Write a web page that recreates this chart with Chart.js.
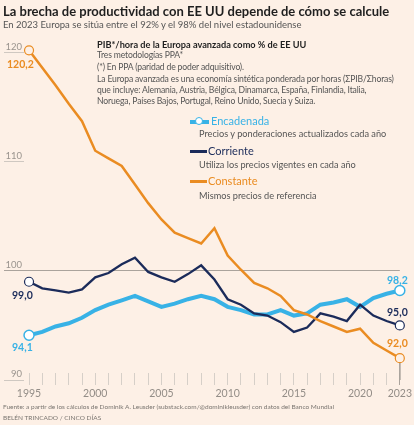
<!DOCTYPE html>
<html lang="es">
<head>
    <meta charset="UTF-8">
    <title>La brecha de productividad con EE UU</title>
    <script src="https://cdn.jsdelivr.net/npm/chart.js"></script>
    <style>
        html, body { margin: 0; padding: 0; }
        body { width: 414px; height: 425px; background: #fdf0e6; font-family: 'Lato', sans-serif; position: relative; overflow: hidden; }
        .t { position: absolute; white-space: nowrap; line-height: 1; }
        #chart-wrap { position: absolute; left: 0; top: 0; width: 414px; height: 425px; }
        .title { left: 3px; top: 5px; font-size: 13px; font-weight: 700; color: #1f1f1f; }
        .sub { left: 3px; top: 20px; font-size: 9.5px; color: #555; }
        .note { left: 97px; font-size: 8.6px; letter-spacing: -0.15px; color: #555; }
        .note.b { font-weight: 700; color: #1f1f1f; font-size: 9.2px; letter-spacing: 0; }
        .leg { font-size: 11px; }
        .desc { left: 199px; font-size: 9.2px; color: #555; }
        .val { font-size: 10.5px; font-weight: 700; }
        .foot { left: 3px; font-size: 6.5px; color: #7a7570; }
        .sym { position: absolute; height: 2.5px; }
    </style>
</head>
<body>
    <div id="chart-wrap"><canvas id="brechaChart" width="414" height="425"></canvas></div>

    <div class="t title">La brecha de productividad con EE UU depende de cómo se calcule</div>
    <div class="t sub">En 2023 Europa se sitúa entre el 92% y el 98% del nivel estadounidense</div>

    <div class="t note b" style="top:40px">PIB*/hora de la Europa avanzada como % de EE UU</div>
    <div class="t note" style="top:51px">Tres metodologías PPA*</div>
    <div class="t note" style="top:63px">(*) En PPA (paridad de poder adquisitivo).</div>
    <div class="t note" style="top:75px">La Europa avanzada es una economía sintética ponderada por horas (ΣPIB/Σhoras)</div>
    <div class="t note" style="top:86px">que incluye: Alemania, Austria, Bélgica, Dinamarca, España, Finlandia, Italia,</div>
    <div class="t note" style="top:97px">Noruega, Países Bajos, Portugal, Reino Unido, Suecia y Suiza.</div>

    <!-- leyenda -->
    <div class="sym" style="left:190px; top:120px; width:19px; height:3.5px; background:#38b2e6"></div>
    <div style="position:absolute; left:195px; top:117px; width:6px; height:6px; border:1.5px solid #38b2e6; border-radius:50%; background:#fff"></div>
    <div class="t leg" style="left:211px; top:115px; color:#38b2e6">Encadenada</div>
    <div class="t desc" style="top:129px">Precios y ponderaciones actualizados cada año</div>

    <div class="sym" style="left:190px; top:150px; width:17px; background:#1b2b5a"></div>
    <div class="t leg" style="left:208px; top:145px; color:#1b2b5a">Corriente</div>
    <div class="t desc" style="top:160px">Utiliza los precios vigentes en cada año</div>

    <div class="sym" style="left:190px; top:180px; width:17px; background:#ea8c22"></div>
    <div class="t leg" style="left:208px; top:175px; color:#ea8c22">Constante</div>
    <div class="t desc" style="top:191px">Mismos precios de referencia</div>

    <!-- valores extremos -->
    <div class="t val" style="left:7px; top:59px; color:#ea8c22">120,2</div>
    <div class="t val" style="left:12px; top:290px; color:#1b2b5a">99,0</div>
    <div class="t val" style="left:12px; top:342px; color:#38b2e6">94,1</div>
    <div class="t val" style="left:387px; top:275px; color:#38b2e6">98,2</div>
    <div class="t val" style="left:387px; top:307px; color:#1b2b5a">95,0</div>
    <div class="t val" style="left:387px; top:338px; color:#ea8c22">92,0</div>

    <div class="t foot" style="top:404px">Fuente: a partir de los cálculos de Dominik A. Leusder (substack.com/@dominikleusder) con datos del Banco Mundial</div>
    <div class="t foot" style="top:415px">BELÉN TRINCADO / CINCO DÍAS</div>

    <script>
        // años y series (% del nivel de EE UU)
        const years = [1995, 1996, 1997, 1998, 1999, 2000, 2001, 2002, 2003, 2004, 2005, 2006, 2007, 2008, 2009,
                       2010, 2011, 2012, 2013, 2014, 2015, 2016, 2017, 2018, 2019, 2020, 2021, 2022, 2023];
        const encadenada = [94.1, 94.4, 94.9, 95.2, 95.7, 96.4, 96.9, 97.3, 97.7, 97.2, 96.7, 97.0, 97.4, 97.7, 97.4,
                            96.7, 96.4, 96.0, 96.0, 96.4, 95.9, 96.1, 96.9, 97.1, 97.4, 96.7, 97.5, 97.9, 98.2];
        const corriente = [99.0, 98.4, 98.2, 98.0, 98.3, 99.4, 99.8, 100.6, 101.2, 99.9, 99.4, 99.0, 99.7, 100.5, 99.2,
                           97.4, 96.9, 96.1, 95.9, 95.3, 94.4, 94.8, 96.1, 95.8, 95.4, 96.9, 95.9, 95.4, 95.0];
        const constante = [120.2, 118.6, 117.0, 115.3, 113.7, 111.0, 110.3, 109.6, 107.9, 106.2, 104.7, 103.5, 103.0, 102.5, 103.9,
                           101.4, 100.1, 98.9, 98.4, 97.7, 96.4, 96.0, 95.4, 94.9, 94.4, 94.7, 93.4, 92.7, 92.0];
        const yTicks = [90, 100, 110, 120];
        const xLabels = [1995, 2000, 2005, 2010, 2015, 2020, 2023];

        const BG = '#fdf0e6';

        function serie(vals) {
            return vals.map((v, i) => ({ x: years[i], y: v }));
        }
        function extremos(r) {
            return ctx => (ctx.dataIndex === 0 || ctx.dataIndex === years.length - 1) ? r : 0;
        }

        const lastYear = years[years.length - 1];

        const ctx = document.getElementById('brechaChart').getContext('2d');
        new Chart(ctx, {
            type: 'line',
            data: {
                datasets: [
                    {
                        label: 'Constante',
                        data: serie(constante),
                        borderColor: '#ea8c22',
                        borderWidth: 2.5,
                        pointRadius: extremos(4.5),
                        pointBorderWidth: 1.2,
                        pointBackgroundColor: BG,
                        pointBorderColor: '#ea8c22',
                        clip: false
                    },
                    {
                        label: 'Corriente',
                        data: serie(corriente),
                        borderColor: '#1b2b5a',
                        borderWidth: 2.3,
                        pointRadius: extremos(4.5),
                        pointBorderWidth: 1.2,
                        pointBackgroundColor: '#ffffff',
                        pointBorderColor: '#1b2b5a',
                        clip: false
                    },
                    {
                        label: 'Encadenada',
                        data: serie(encadenada),
                        borderColor: '#38b2e6',
                        borderWidth: 4,
                        pointRadius: extremos(5),
                        pointBorderWidth: 1.5,
                        pointBackgroundColor: '#ffffff',
                        pointBorderColor: '#38b2e6',
                        clip: false
                    },
                    {
                        // guía vertical del último año
                        label: 'guia',
                        data: [{ x: lastYear, y: constante[constante.length - 1] }, { x: lastYear, y: yTicks[0] }],
                        borderColor: '#aaa39c',
                        borderWidth: 1,
                        pointRadius: 0,
                        clip: false
                    }
                ]
            },
            options: {
                responsive: false,
                animation: false,
                events: [],
                layout: { padding: { top: 47, bottom: 45, left: 0, right: 13 } },
                elements: { line: { tension: 0 } },
                plugins: { legend: { display: false }, tooltip: { enabled: false } },
                scales: {
                    x: {
                        type: 'linear',
                        min: 1994.62,
                        max: lastYear,
                        position: { y: 90.6 },
                        afterBuildTicks: s => { s.ticks = years.map(v => ({ value: v })); },
                        border: { display: false },
                        grid: {
                            drawOnChartArea: false,
                            tickLength: 12,
                            tickColor: c => (c.tick && c.tick.value === lastYear) ? '#aaa39c' : '#d6cfc8'
                        },
                        ticks: {
                            autoSkip: false,
                            maxRotation: 0,
                            padding: 2,
                            color: '#938d87',
                            font: { family: 'Lato', size: 10.5 },
                            callback: v => xLabels.includes(v) ? String(v) : ''
                        }
                    },
                    y: {
                        min: 90,
                        max: 120.5,
                        afterBuildTicks: s => { s.ticks = yTicks.map(v => ({ value: v })); },
                        afterFit: s => { s.width = 24; },
                        border: { display: false },
                        grid: {
                            drawOnChartArea: true,
                            tickLength: 20,
                            color: c => (c.tick && c.tick.value === 100) ? '#aaa39c' : 'rgba(0,0,0,0)',
                            tickColor: c => (c.tick && c.tick.value === 100) ? '#aaa39c' : '#cfc8c1'
                        },
                        ticks: {
                            padding: -18,
                            labelOffset: -6,
                            color: '#9a948e',
                            font: { family: 'Lato', size: 9.5 }
                        }
                    }
                }
            }
        });
    </script>
</body>
</html>
